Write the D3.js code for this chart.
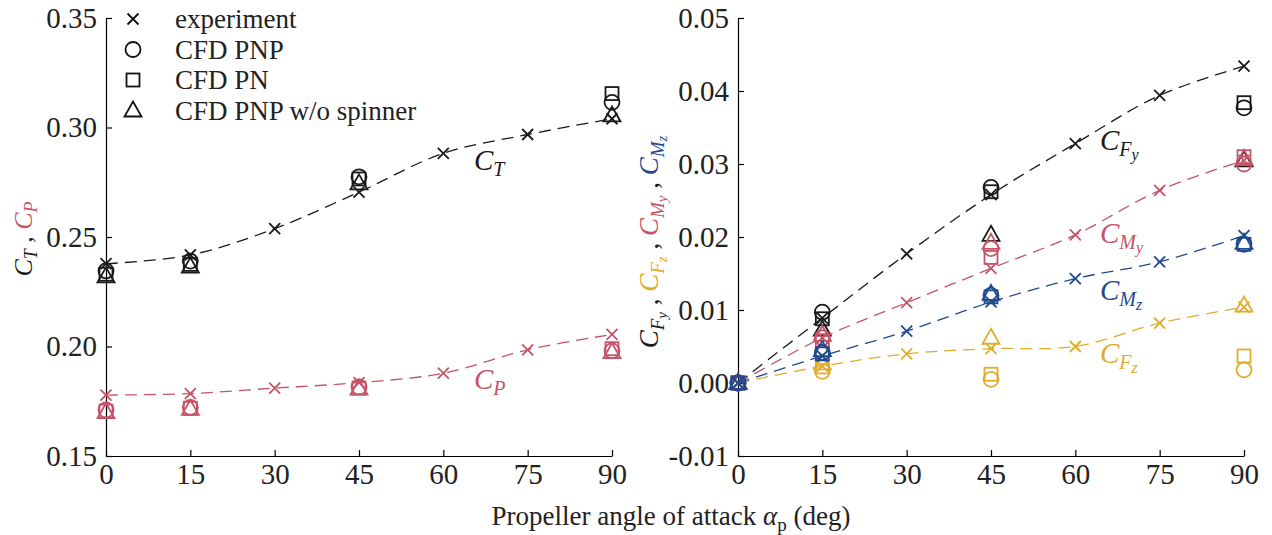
<!DOCTYPE html>
<html><head><meta charset="utf-8">
<script src="https://cdn.jsdelivr.net/npm/d3@7"></script>
<style>body{margin:0;background:#fff}svg{display:block}svg text{font-family:"Liberation Serif","Tinos","DejaVu Serif",serif}</style>
</head><body><svg id="c" width="1272" height="535"></svg>
<script>
// ---------- data ----------
const angles = [0, 15, 30, 45, 60, 75, 90];
const cfdAngles = [0, 15, 45, 90];
const xTicks = [0, 15, 30, 45, 60, 75, 90];
const leftYTicks = [0.15, 0.20, 0.25, 0.30, 0.35];
const rightYTicks = [-0.01, 0.00, 0.01, 0.02, 0.03, 0.04, 0.05];

// left panel
const ctExp  = [0.2378, 0.2418, 0.2538, 0.2705, 0.2882, 0.2968, 0.3040];
const ctPNP  = [0.2345, 0.2390, 0.2775, 0.3115];
const ctPN   = [0.2330, 0.2375, 0.2765, 0.3155];
const ctNoSp = [0.2320, 0.2365, 0.2745, 0.3055];
const cpExp  = [0.1778, 0.1785, 0.1810, 0.1835, 0.1878, 0.1985, 0.2055];
const cpPNP  = [0.1710, 0.1722, 0.1815, 0.1980];
const cpPN   = [0.1705, 0.1718, 0.1810, 0.1990];
const cpNoSp = [0.1700, 0.1715, 0.1808, 0.1975];

// right panel
const cfyExp  = [0, 0.0089, 0.0177, 0.0258, 0.0328, 0.0394, 0.0434];
const cfyPNP  = [0, 0.0097, 0.0268, 0.0377];
const cfyPN   = [0, 0.0088, 0.0262, 0.0384];
const cfyNoSp = [0, 0.0073, 0.0203, 0.0305];
const cfzExp  = [0, 0.0023, 0.0040, 0.0047, 0.0050, 0.0082, 0.0104];
const cfzPNP  = [0, 0.0016, 0.0005, 0.0018];
const cfzPN   = [0, 0.0022, 0.0012, 0.0037];
const cfzNoSp = [0, 0.0027, 0.0062, 0.0106];
const cmyExp  = [0, 0.0062, 0.0110, 0.0157, 0.0203, 0.0264, 0.0305];
const cmyPNP  = [0, 0.0062, 0.0184, 0.0300];
const cmyPN   = [0, 0.0058, 0.0172, 0.0310];
const cmyNoSp = [0, 0.0066, 0.0192, 0.0307];
const cmzExp  = [0, 0.0037, 0.0071, 0.0111, 0.0143, 0.0166, 0.0202];
const cmzPNP  = [0, 0.0042, 0.0120, 0.0190];
const cmzPN   = [0, 0.0040, 0.0118, 0.0190];
const cmzNoSp = [0, 0.0045, 0.0122, 0.0192];

const legendLabels = ["experiment", "CFD PNP", "CFD PN", "CFD PNP w/o spinner"];
const markerTypes = ["x", "circle", "square", "triangle"];

// ---------- styles ----------
const BLACK = "#1a1a1a", RED = "#c65468", BLUE = "#1f4a8f", YEL = "#e1ab2c";
const FS = 29;

const svg = d3.select("#c");

// ---------- scales ----------
const xL = d3.scaleLinear().domain([0, 90]).range([106, 612]);
const yL = d3.scaleLinear().domain([0.15, 0.35]).range([456, 18]);
const xR = d3.scaleLinear().domain([0, 90]).range([738, 1244]);
const yR = d3.scaleLinear().domain([-0.01, 0.05]).range([456, 18]);

const fmt2 = d => d3.format(".2f")(d).replace("\u2212", "-");

function drawAxes(x, y, yt) {
  const gx = svg.append("g").attr("transform", `translate(0,${y.range()[0]})`)
    .call(d3.axisBottom(x).tickValues(xTicks).tickSizeInner(-6).tickSizeOuter(0).tickPadding(7).tickFormat(d3.format("d")));
  const gy = svg.append("g").attr("transform", `translate(${x.range()[0]},0)`)
    .call(d3.axisLeft(y).tickValues(yt).tickSizeInner(-6).tickSizeOuter(0).tickPadding(9).tickFormat(fmt2));
  [gx, gy].forEach(g => {
    g.attr("font-family", null).attr("font-size", null);
    g.select(".domain").attr("stroke", "#000").attr("stroke-width", 1.2);
    g.selectAll(".tick line").attr("stroke", "#000").attr("stroke-width", 1.2);
    g.selectAll(".tick text").attr("font-size", FS).attr("fill", "#222");
  });
}
drawAxes(xL, yL, leftYTicks);
drawAxes(xR, yR, rightYTicks);

// ---------- markers ----------
function marker(g, type, cx, cy, color) {
  const sw = 1.8;
  if (type === "x") {
    const s = 5.5;
    g.append("path").attr("d", `M${cx-s},${cy-s}L${cx+s},${cy+s}M${cx-s},${cy+s}L${cx+s},${cy-s}`)
      .attr("stroke", color).attr("stroke-width", sw).attr("fill", "none");
  } else if (type === "circle") {
    g.append("circle").attr("cx", cx).attr("cy", cy).attr("r", 7.5)
      .attr("stroke", color).attr("stroke-width", sw).attr("fill", "none");
  } else if (type === "square") {
    const s = 6.5;
    g.append("rect").attr("x", cx-s).attr("y", cy-s).attr("width", 2*s).attr("height", 2*s)
      .attr("stroke", color).attr("stroke-width", sw).attr("fill", "none");
  } else {
    const h = 15, w = 17;
    g.append("path").attr("d", `M${cx},${cy-h*0.6}L${cx+w/2},${cy+h*0.4}L${cx-w/2},${cy+h*0.4}Z`)
      .attr("stroke", color).attr("stroke-width", sw).attr("fill", "none").attr("stroke-linejoin", "miter");
  }
}

function series(x, y, exp, cfds, color) {
  const g = svg.append("g");
  const line = d3.line().x((d, i) => x(angles[i])).y(d => y(d)).curve(d3.curveCatmullRom.alpha(0.5));
  g.append("path").attr("d", line(exp)).attr("fill", "none").attr("stroke", color)
    .attr("stroke-width", 1.3).attr("stroke-dasharray", "12,7");
  exp.forEach((v, i) => marker(g, "x", x(angles[i]), y(v), color));
  cfds.forEach((arr, k) => arr.forEach((v, i) => marker(g, markerTypes[k + 1], x(cfdAngles[i]), y(v), color)));
}

series(xL, yL, ctExp, [ctPNP, ctPN, ctNoSp], BLACK);
series(xL, yL, cpExp, [cpPNP, cpPN, cpNoSp], RED);
series(xR, yR, cfyExp, [cfyPNP, cfyPN, cfyNoSp], BLACK);
series(xR, yR, cfzExp, [cfzPNP, cfzPN, cfzNoSp], YEL);
series(xR, yR, cmyExp, [cmyPNP, cmyPN, cmyNoSp], RED);
series(xR, yR, cmzExp, [cmzPNP, cmzPN, cmzNoSp], BLUE);

// ---------- rich text helper ----------
// parts: [text, level(0,1,2), color, italic]
function rich(sel, parts, base) {
  const b = base || FS;
  const sizes = [b, Math.round(b * 0.7), Math.round(b * 0.56)];
  const shift = [0, Math.round(b * 0.21), Math.round(b * 0.35)];
  let cur = 0;
  parts.forEach(([t, lvl, col, it]) => {
    const dy = shift[lvl] - cur; cur = shift[lvl];
    sel.append("tspan").attr("dy", dy).attr("font-size", sizes[lvl]).attr("fill", col)
      .attr("font-style", it ? "italic" : "normal").text(t);
  });
  return sel;
}

// in-plot annotations
function ann(x, y, parts) {
  rich(svg.append("text").attr("x", x).attr("y", y), parts, 29);
}
ann(474, 170, [["C", 0, BLACK, 1], ["T", 1, BLACK, 1]]);
ann(474, 389, [["C", 0, RED, 1], ["P", 1, RED, 1]]);
ann(1100, 150, [["C", 0, BLACK, 1], ["F", 1, BLACK, 1], ["y", 2, BLACK, 1]]);
ann(1100, 243, [["C", 0, RED, 1], ["M", 1, RED, 1], ["y", 2, RED, 1]]);
ann(1100, 300, [["C", 0, BLUE, 1], ["M", 1, BLUE, 1], ["z", 2, BLUE, 1]]);
ann(1100, 363, [["C", 0, YEL, 1], ["F", 1, YEL, 1], ["z", 2, YEL, 1]]);

// y axis labels
rich(svg.append("text").attr("transform", "translate(32,239) rotate(-90)").attr("text-anchor", "middle"),
  [["C", 0, BLACK, 1], ["T", 1, BLACK, 1], [" , ", 0, BLACK, 0], ["C", 0, RED, 1], ["P", 1, RED, 1]], 26);
rich(svg.append("text").attr("transform", "translate(658,242) rotate(-90)").attr("text-anchor", "middle"),
  [["C", 0, BLACK, 1], ["F", 1, BLACK, 1], ["y", 2, BLACK, 1], [" , ", 0, BLACK, 0],
   ["C", 0, YEL, 1], ["F", 1, YEL, 1], ["z", 2, YEL, 1], [" , ", 0, BLACK, 0],
   ["C", 0, RED, 1], ["M", 1, RED, 1], ["y", 2, RED, 1], [" , ", 0, BLACK, 0],
   ["C", 0, BLUE, 1], ["M", 1, BLUE, 1], ["z", 2, BLUE, 1]], 27);

// x axis title
const tt = svg.append("text").attr("x", 671).attr("y", 525).attr("text-anchor", "middle")
  .attr("font-size", 27).attr("fill", "#222");
tt.append("tspan").text("Propeller angle of attack ");
tt.append("tspan").attr("font-style", "italic").text("α");
tt.append("tspan").attr("font-size", 19).attr("dy", 6).text("p");
tt.append("tspan").attr("dy", -6).text(" (deg)");

// legend
const lg = svg.append("g");
legendLabels.forEach((lab, i) => {
  const cy = 19 + i * 30.5;
  marker(lg, markerTypes[i], 133, cy, "#111");
  lg.append("text").attr("x", 175).attr("y", cy + 9).attr("font-size", 27)
    .attr("fill", "#222").text(lab);
});
</script></body></html>
